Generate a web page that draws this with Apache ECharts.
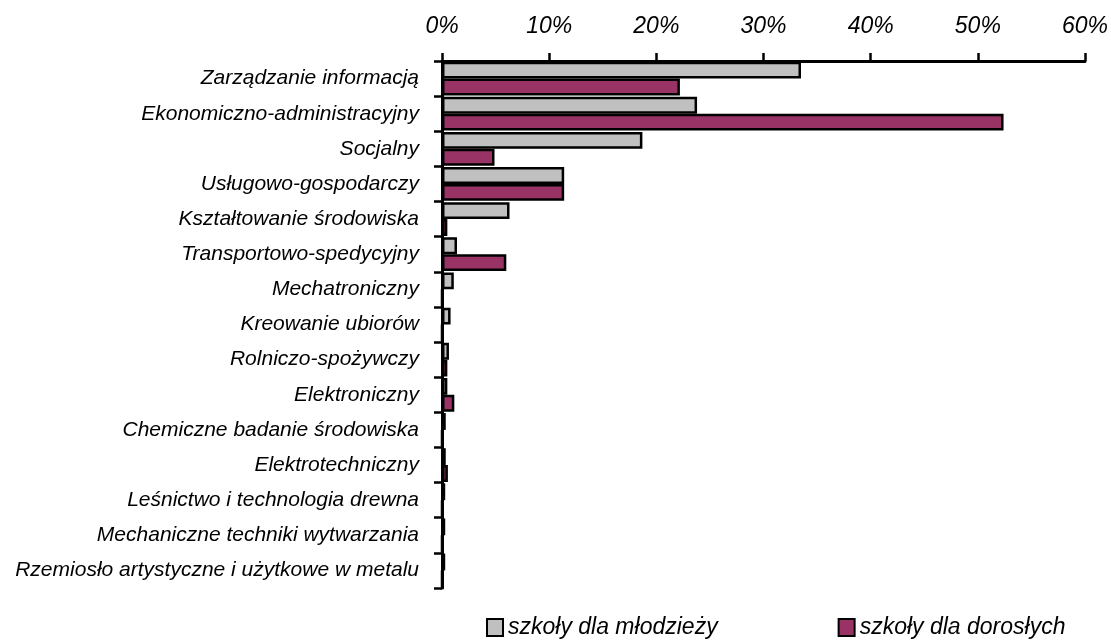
<!DOCTYPE html>
<html>
<head>
<meta charset="utf-8">
<script src="https://cdn.jsdelivr.net/npm/echarts@6/dist/echarts.min.js"></script>
<style>html,body{margin:0;padding:0;background:#fff}#c{width:1111px;height:642px}</style>
</head>
<body>
<div id="c"></div>
<script>
const categories = ["Zarządzanie informacją","Ekonomiczno-administracyjny","Socjalny","Usługowo-gospodarczy","Kształtowanie środowiska","Transportowo-spedycyjny","Mechatroniczny","Kreowanie ubiorów","Rolniczo-spożywczy","Elektroniczny","Chemiczne badanie środowiska","Elektrotechniczny","Leśnictwo i technologia drewna","Mechaniczne techniki wytwarzania","Rzemiosło artystyczne i użytkowe w metalu"];
const youth = [33.5, 23.8, 18.7, 11.4, 6.3, 1.4, 1.1, 0.8, 0.65, 0.5, 0.35, 0.35, 0.3, 0.3, 0.3];
const adults = [22.2, 52.4, 4.9, 11.4, 0.5, 6.0, 0, 0, 0.5, 1.15, 0, 0.55, 0, 0, 0];
const seriesNames = ["szkoły dla młodzieży","szkoły dla dorosłych"];
const ticks = [0,10,20,30,40,50,60];

const chart = echarts.init(document.getElementById('c'), null, {renderer:'canvas'});
const font = '"Liberation Sans", Arial, sans-serif';
chart.setOption({
  animation:false,
  grid:{left:442,right:24,top:61,bottom:54,containLabel:false},
  xAxis:{type:'value',position:'top',min:ticks[0],max:ticks[ticks.length-1],interval:10,
    axisLine:{show:true,lineStyle:{color:'#000',width:3}},
    axisTick:{show:true,inside:false,length:8,lineStyle:{color:'#000',width:2.5}},
    splitLine:{show:false},
    axisLabel:{formatter:v=>v+'%',fontFamily:font,fontStyle:'italic',fontSize:23,color:'#000',margin:23}
  },
  yAxis:{type:'category',data:categories,inverse:true,
    axisLine:{show:true,lineStyle:{color:'#000',width:3}},
    axisTick:{show:true,length:8,lineStyle:{color:'#000',width:2.5}},
    axisLabel:{fontFamily:font,fontStyle:'italic',fontSize:21,color:'#000',margin:23}
  },
  legend:{top:616,left:486,padding:0,itemGap:120,itemWidth:16,itemHeight:17,icon:'rect',
    textStyle:{fontFamily:font,fontStyle:'italic',fontSize:23,color:'#000'},
    data:seriesNames},
  series:[
    {name:seriesNames[0],type:'bar',data:youth,barGap:'0%',barCategoryGap:'4%',
      itemStyle:{color:'#C0C0C0',borderColor:'#000',borderWidth:2.5}},
    {name:seriesNames[1],type:'bar',data:adults,
      itemStyle:{color:'#993366',borderColor:'#000',borderWidth:2.5}}
  ]
});
</script>
</body>
</html>
